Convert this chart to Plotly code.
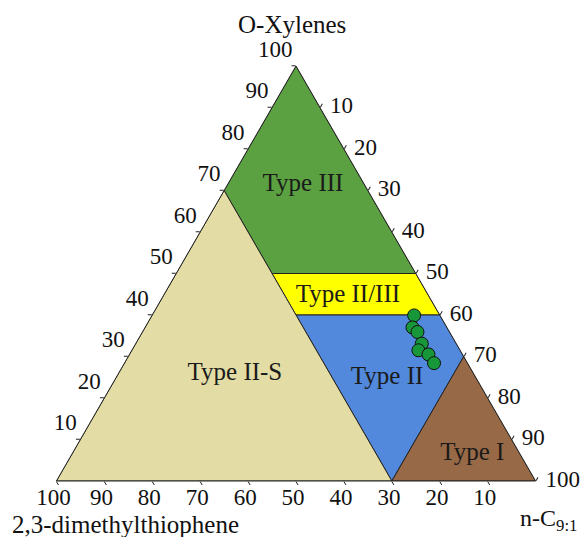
import plotly.graph_objects as go

# Sample compositions (%): O-Xylenes, 2,3-dimethylthiophene, n-C9:1
o_xylenes = [39.9, 37.0, 35.9, 33.1, 31.5, 30.5, 28.4]
dmt = [5.4, 7.2, 6.7, 7.2, 8.7, 7.1, 7.0]
nc91 = [100 - a - b for a, b in zip(o_xylenes, dmt)]

tick_values = [10, 20, 30, 40, 50, 60, 70, 80, 90, 100]
tick_text = [str(v) for v in tick_values]

# Kerogen-type fields as ternary polygons (a, b, c)
regions = {
    "Type III":    {"a": [100, 70, 50, 50, 100], "b": [0, 30, 30, 0, 0], "color": "#5BA141"},
    "Type II/III": {"a": [50, 50, 40, 40, 50], "b": [0, 30, 30, 0, 0], "color": "#FFFF00"},
    "Type II":     {"a": [40, 40, 0, 30, 40], "b": [0, 30, 30, 0, 0], "color": "#5289DC"},
    "Type II-S":   {"a": [70, 0, 0, 70], "b": [30, 100, 30, 30], "color": "#E3DDA5"},
    "Type I":      {"a": [30, 0, 0, 30], "b": [0, 30, 0, 0], "color": "#976946"},
}

# Label anchor points for each field (a, b)
label_names = ["Type III", "Type II/III", "Type II-S", "Type II", "Type I"]
label_a = [71.3, 44.75, 25.9, 25.0, 6.6]
label_b = [12.9, 16.8, 49.8, 18.5, 9.9]
label_c = [100 - a - b for a, b in zip(label_a, label_b)]

FONT = "Liberation Serif"
INK = "#111111"
NBSP = "\u00a0"

fig = go.Figure()

for name, r in regions.items():
    c = [100 - a - b for a, b in zip(r["a"], r["b"])]
    fig.add_trace(go.Scatterternary(
        a=r["a"], b=r["b"], c=c, mode="lines", fill="toself",
        fillcolor=r["color"], line=dict(color="#222222", width=1),
        hoverinfo="skip", showlegend=False,
    ))

fig.add_trace(go.Scatterternary(
    a=label_a, b=label_b, c=label_c, mode="text", text=label_names,
    textposition="middle center",
    textfont=dict(family=FONT, size=25, color="#1a1a1a"),
    hoverinfo="skip", showlegend=False,
))

fig.add_trace(go.Scatterternary(
    a=o_xylenes, b=dmt, c=nc91, mode="markers",
    marker=dict(size=13, color="#17973A", line=dict(color=INK, width=1)),
    showlegend=False, cliponaxis=False,
))

# Tick labels along each edge, placed at the tick values; an invisible
# marker of the given size sets how far each label sits from its edge.
zeros = [0] * len(tick_values)
rest = [100 - v for v in tick_values]
tick_font = dict(family=FONT, size=23, color=INK)
for a, b, c, pos, gap, labels in [
    (tick_values, rest, zeros, "top left", 4, tick_text),                      # O-Xylenes
    (zeros, tick_values, rest, "bottom center", 9.6, [t + NBSP for t in tick_text]),  # 2,3-DMT
    (rest, zeros, tick_values, "middle right", 14.4, tick_text),              # n-C9:1
]:
    fig.add_trace(go.Scatterternary(
        a=a, b=b, c=c, mode="markers+text", text=labels, textposition=pos,
        textfont=tick_font, cliponaxis=False, hoverinfo="skip", showlegend=False,
        marker=dict(size=gap, color="rgba(0,0,0,0)", line=dict(width=0)),
    ))

axis_common = dict(
    tickvals=tick_values, ticks="outside", ticklen=4, showticklabels=False,
    tickcolor="#222222", linecolor="#222222", linewidth=1, showgrid=False,
    title=dict(text=""), min=0,
)

fig.update_layout(
    width=584, height=537,
    margin=dict(l=56, r=48, t=66, b=56),
    paper_bgcolor="white",
    ternary=dict(
        sum=100, bgcolor="white",
        aaxis=axis_common, baxis=axis_common, caxis=axis_common,
    ),
    annotations=[
        dict(text="O-Xylenes", x=0.4917, y=1.0988, xref="paper", yref="paper",
             showarrow=False, font=dict(family=FONT, size=25, color=INK),
             xanchor="center", yanchor="middle"),
        dict(text="2,3-dimethylthiophene", x=0.1438, y=-0.106, xref="paper", yref="paper",
             showarrow=False, font=dict(family=FONT, size=25, color=INK),
             xanchor="center", yanchor="middle"),
        dict(text="n-C<sub>9:1</sub>", x=0.9625, y=-0.094, xref="paper", yref="paper",
             showarrow=False, font=dict(family=FONT, size=24, color=INK),
             xanchor="left", yanchor="middle"),
    ],
)

fig.write_html("out.html")
